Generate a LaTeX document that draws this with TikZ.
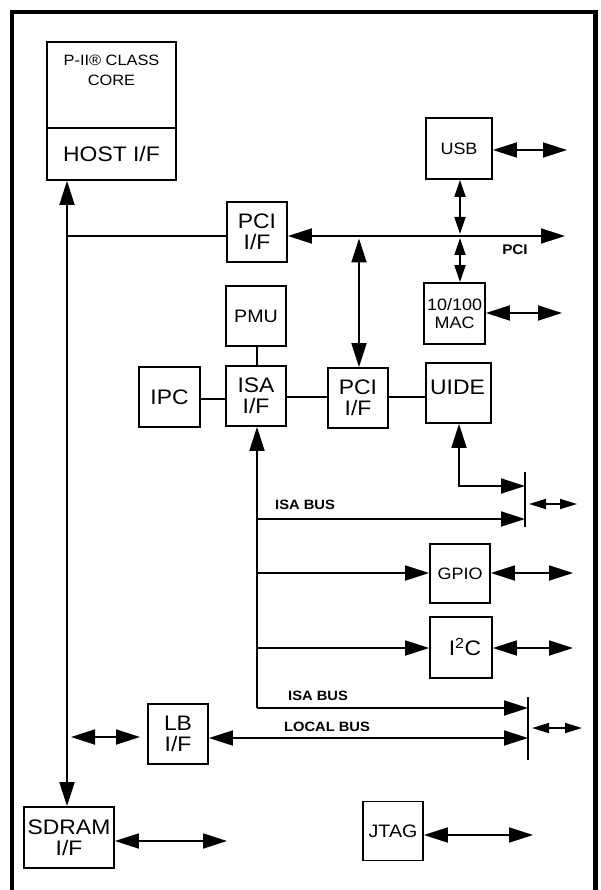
\documentclass[tikz,border=0pt]{standalone}
\usepackage{fontspec}
\setmainfont{Liberation Sans}[FakeStretch=1.09]
\usetikzlibrary{arrows.meta}
\begin{document}
\begin{tikzpicture}[x=1pt,y=-1pt,
  blk/.style={draw,line width=1.8pt,inner sep=0pt,align=center,minimum width=60pt,minimum height=60pt},
  big/.style={font=\fontsize{21}{21}\selectfont},
  mid/.style={font=\fontsize{18}{18}\selectfont},
  sml/.style={font=\fontsize{16.5}{18}\selectfont},
  buslbl/.style={font=\bfseries\fontsize{13.5}{14}\selectfont,inner sep=0pt},
  wire/.style={line width=1.8pt},
  dbl/.style={wire,{Triangle[length=24pt,width=15pt]}-{Triangle[length=24pt,width=15pt]}},
  fwd/.style={wire,-{Triangle[length=24pt,width=15pt]}},
  vdbl/.style={wire,{Triangle[length=17pt,width=11pt]}-{Triangle[length=17pt,width=11pt]}},
  sdbl/.style={wire,{Triangle[length=17pt,width=10pt]}-{Triangle[length=17pt,width=10pt]}}
]
\useasboundingbox (0,0) rectangle (600,890);
% frame (open at the bottom)
\draw[line width=4.5pt] (12,892) -- (12,12) -- (595.5,12) -- (595.5,892);

% core
\node[blk,minimum width=129pt,minimum height=86pt] (cpu) at (111.5,85) {};
\node[font=\fontsize{15}{20}\selectfont,anchor=north,inner sep=0pt,align=center] (cputxt) at (111.5,55) {P-II® CLASS\\CORE};
\node[blk,big,minimum width=129pt,minimum height=52pt] (host) at (111.5,154) {HOST I/F};

\node[blk,big] (upci) at (257,232) {PCI\\I/F};
\node[blk,sml,minimum width=66pt,minimum height=61pt] (usb) at (459,148.5) {USB};
\node[blk,sml,minimum width=61pt,minimum height=61pt] (mac) at (454.5,313.5) {10/100\\MAC};
\node[blk,mid] (pmu) at (256,316) {PMU};
\node[blk,big] (isa) at (256,396) {ISA\\I/F};
\node[blk,big,minimum width=61pt] (ipc) at (169.5,397) {IPC};
\node[blk,big] (lpci) at (358,398) {PCI\\I/F};
\node[blk,minimum width=65pt] (uide) at (458.5,393) {};
\node[big,inner sep=0pt] (uidetxt) at (457.5,387) {UIDE};
\node[blk,sml,minimum height=59pt] (gpio) at (460,573.5) {GPIO};
\node[blk,minimum width=62pt,minimum height=61pt] (i2c) at (461,647.5) {};
\node[big,inner sep=0pt] (i2ctxt) at (465,647) {I\textsuperscript{2}C};
\node[blk,big] (lb) at (178,734) {LB\\I/F};
\node[blk,big,minimum width=90pt,minimum height=61pt] (sdram) at (69,837.5) {SDRAM\\I/F};
\node[blk,mid,minimum height=59pt] (jtag) at (393,831) {JTAG};

% coordinates
\coordinate (pcibus) at (565,236);
\coordinate (hx) at (67,236);
\coordinate (isabot) at (257,708);
\coordinate (bar1t) at (525,472);
\coordinate (bar1b) at (525,527);
\coordinate (bar2t) at (528,697);
\coordinate (bar2b) at (528,760);

% host <-> sdram vertical
\draw[dbl] (host.south -| hx) -- (sdram.north -| hx);
\draw[wire] (hx) -- (upci.west |- hx);
% PCI bus
\draw[dbl] (upci.east |- pcibus) -- (pcibus);
\node[buslbl,font=\bfseries\fontsize{14}{14}\selectfont] (pcilbl) at (515,250) {PCI};
\draw[dbl] (359,238.5) -- (lpci.north -| 359,0);
\draw[vdbl] (usb.south -| 460,0) -- (460,234);
\draw[vdbl] (460,238) -- (mac.north -| 460,0);
\draw[dbl] (usb.east |- 0,150) -- (567,150);
\draw[dbl] (mac.east |- 0,313) -- (562,313);

% ISA interconnect
\draw[wire] (ipc.east |- 0,399) -- (isa.west |- 0,399);
\draw[wire] (isa.east |- 0,397) -- (lpci.west |- 0,397);
\draw[wire] (lpci.east |- 0,397) -- (uide.west |- 0,397);
\draw[wire] (pmu.south -| 257,0) -- (isa.north -| 257,0);

% ISA bus
\draw[wire,{Triangle[length=24pt,width=15pt]}-] (isa.south -| 257,0) -- (isabot);
\draw[fwd] (257,519) -- (bar1b |- 0,519);
\node[buslbl] (isalbl1) at (305,505) {ISA BUS};
\draw[fwd] (257,573) -- (gpio.west |- 0,573);
\draw[fwd] (257,648) -- (i2c.west |- 0,648);
\draw[fwd] (isabot) -- (bar2t |- isabot);
\node[buslbl] (isalbl2) at (318,696) {ISA BUS};

% UIDE path
\draw[dbl] (uide.south -| 459,0) -- (459,486) -- (bar1t |- 0,486);

% bars
\draw[wire] (bar1t) -- (bar1b);
\draw[wire] (bar2t) -- (bar2b);
\draw[sdbl] (529,504) -- (577,504);
\draw[sdbl] (532,728) -- (582,728);

% local bus
\draw[dbl] (lb.east |- 0,738) -- (bar2t |- 0,738);
\node[buslbl] (lbuslbl) at (327,727) {LOCAL BUS};
\draw[dbl] (71,737) -- (140,737);

% right side arrows
\draw[dbl] (gpio.east |- 0,573) -- (573,573);
\draw[dbl] (i2c.east |- 0,648) -- (573,648);
\draw[dbl] (sdram.east |- 0,841) -- (227,841);
\draw[dbl] (jtag.east |- 0,835) -- (533,835);
\end{tikzpicture}
\end{document}
